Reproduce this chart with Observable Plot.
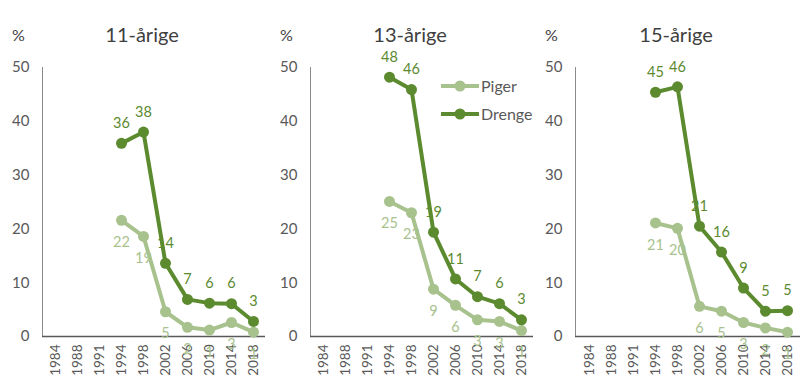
<!DOCTYPE html>
<html>
<head>
<meta charset="utf-8">
<script src="https://cdn.jsdelivr.net/npm/d3@7"></script>
<script src="https://cdn.jsdelivr.net/npm/@observablehq/plot@0.6"></script>
<style>
  html, body { margin: 0; padding: 0; background: #fff; }
  #chart { position: relative; width: 800px; height: 387px; overflow: hidden; }
  #chart svg { position: absolute; top: 0; overflow: visible; }
</style>
</head>
<body>
<div id="chart"></div>
<script>
const years = ["1984","1988","1991","1994","1998","2002","2006","2010","2014","2018"];
const dataYears = ["1994","1998","2002","2006","2010","2014","2018"];
const yTicks = [0, 10, 20, 30, 40, 50];
const panelTitles = ["11-årige", "13-årige", "15-årige"];
const seriesNames = ["Piger", "Drenge"];

const piger11 = [21.6, 18.6, 4.6, 1.7, 1.2, 2.6, 0.8];
const drenge11 = [35.9, 38.0, 13.6, 6.9, 6.2, 6.1, 2.8];
const piger13 = [25.1, 23.0, 8.8, 5.8, 3.1, 2.8, 1.1];
const drenge13 = [48.2, 45.9, 19.4, 10.7, 7.4, 6.1, 3.1];
const piger15 = [21.1, 20.1, 5.6, 4.7, 2.6, 1.6, 0.8];
const drenge15 = [45.4, 46.4, 20.5, 15.7, 9.0, 4.7, 4.8];

const colors = { Piger: "#a8c28e", Drenge: "#5b8a2f" };
const FONT = "Lato, 'Open Sans', sans-serif";
const GREY = "#595959";

const panels = [
  { title: panelTitles[0], piger: piger11, drenge: drenge11, left: 0, width: 270, marginRight: 5 },
  { title: panelTitles[1], piger: piger13, drenge: drenge13, left: 268, width: 270, marginRight: 5 },
  { title: panelTitles[2], piger: piger15, drenge: drenge15, left: 533, width: 267, marginRight: 0 }
];

const chart = document.getElementById("chart");

function rows(values, name) {
  return dataYears.map((yr, i) => ({ year: yr, value: values[i], series: name }));
}

for (const p of panels) {
  const pig = rows(p.piger, "Piger");
  const dre = rows(p.drenge, "Drenge");
  const fmt = d => d3.format(".0f")(d.value);
  const plot = Plot.plot({
    width: p.width,
    height: 387,
    marginLeft: 42,
    marginRight: p.marginRight,
    marginTop: 67,
    marginBottom: 51,
    style: { fontFamily: FONT, color: GREY, background: "transparent", overflow: "visible" },
    x: { type: "point", domain: years, padding: 0.5, label: null },
    y: { domain: [0, 50], label: null },
    marks: [
      Plot.axisY({ ticks: yTicks, tickSize: 0, tickPadding: 13, fontSize: 15, fill: GREY, label: null }),
      Plot.axisX({ tickSize: 0, tickRotate: -90, tickPadding: 8, fontSize: 13.5, fill: GREY, label: null }),
      Plot.frame({ anchor: "left", stroke: "#8c8c8c", strokeWidth: 1 }),
      Plot.ruleY([0], { stroke: GREY, strokeWidth: 1.5 }),
      Plot.text([p.title], { frameAnchor: "top", dx: -12, dy: -40, fontSize: 20, fill: "#404040", text: d => d }),
      Plot.text(["%"], { frameAnchor: "top-left", dx: -24, dy: -38, fontSize: 16, fill: "#404040", text: d => d, textAnchor: "middle" }),
      Plot.text(pig, { x: "year", y: "value", text: fmt, dy: 22, fontSize: 14.5, fill: colors.Piger }),
      Plot.text(dre, { x: "year", y: "value", text: fmt, dy: -20, fontSize: 14.5, fill: colors.Drenge }),
      Plot.line(pig, { x: "year", y: "value", stroke: colors.Piger, strokeWidth: 4 }),
      Plot.dot(pig, { x: "year", y: "value", r: 5.5, fill: colors.Piger }),
      Plot.line(dre, { x: "year", y: "value", stroke: colors.Drenge, strokeWidth: 4 }),
      Plot.dot(dre, { x: "year", y: "value", r: 5.5, fill: colors.Drenge })
    ]
  });
  plot.style.left = p.left + "px";
  chart.appendChild(plot);
}

// Legend (drawn over the middle panel)
const legend = d3.create("svg")
  .attr("width", 120).attr("height", 60)
  .style("left", "436px").style("top", "70px");
seriesNames.forEach((name, i) => {
  const g = legend.append("g").attr("transform", `translate(0, ${16 + i * 28})`);
  g.append("line").attr("x1", 5).attr("x2", 43).attr("y1", 0).attr("y2", 0)
    .attr("stroke", colors[name]).attr("stroke-width", 4);
  g.append("circle").attr("cx", 24).attr("cy", 0).attr("r", 5.5).attr("fill", colors[name]);
  g.append("text").attr("x", 45).attr("y", 0).attr("dy", "0.35em")
    .attr("font-family", FONT).attr("font-size", 16).attr("fill", GREY).text(name);
});
chart.appendChild(legend.node());
</script>
</body>
</html>
